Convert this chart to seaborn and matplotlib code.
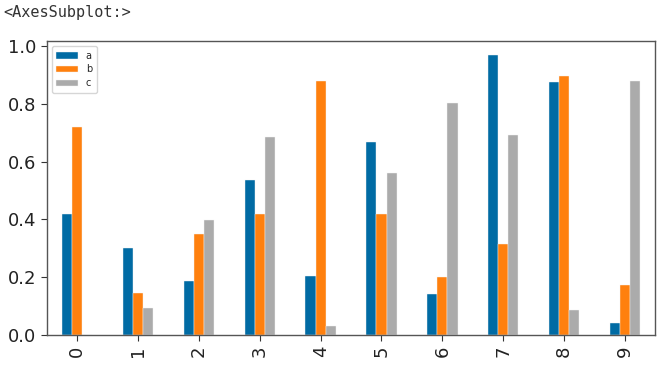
import numpy as np
import matplotlib
matplotlib.use('Agg')
import matplotlib.pyplot as plt
import pandas as pd
import seaborn as sns

# values
idx = ['0', '1', '2', '3', '4', '5', '6', '7', '8', '9']
a = [0.419, 0.302, 0.187, 0.537, 0.205, 0.669, 0.142, 0.969, 0.875, 0.042]
b = [0.721, 0.145, 0.348, 0.419, 0.880, 0.419, 0.200, 0.315, 0.895, 0.173]
c = [0.000, 0.093, 0.398, 0.684, 0.031, 0.560, 0.802, 0.692, 0.087, 0.880]
colors = ['#006BA4', '#FF800E', '#ABABAB']

df = pd.DataFrame({'idx': idx, 'a': a, 'b': b, 'c': c})
long = df.melt(id_vars='idx', var_name='col', value_name='val')

sns.set_style('white')
plt.rcParams['font.family'] = ['DejaVu Sans']

fig = plt.figure(figsize=(6.68, 3.65), dpi=100)
ax = fig.add_axes([0.070, 0.082, 0.911, 0.806])

sns.barplot(data=long, x='idx', y='val', hue='col', palette=colors, saturation=1,
            width=0.5, gap=0, edgecolor='#f4f4f4', linewidth=0.3, ax=ax)

ax.set_xlim(-0.5, 9.5)
ax.set_ylim(0, 1.017)
ax.set_yticks([0.0, 0.2, 0.4, 0.6, 0.8, 1.0])
ax.set_yticklabels(['0.0', '0.2', '0.4', '0.6', '0.8', '1.0'], fontsize=13, color='#222222')
ax.set_xticks(range(10))
ax.set_xticklabels(idx, rotation=90, fontsize=13, color='#222222')
ax.set_xlabel('')
ax.set_ylabel('')
ax.tick_params(axis='both', direction='out', length=4, width=0.8, color='#333333',
               left=True, bottom=True)
for s in ax.spines.values():
    s.set_color('#555555')
    s.set_linewidth(1)

ax.legend(loc='upper left', fontsize=7, frameon=True, handlelength=2.2,
          borderpad=0.5, labelspacing=0.4, title=None)

fig.text(0.005, 0.965, '<AxesSubplot:>', family='DejaVu Sans Mono', fontsize=11,
         color='#333333', va='center', ha='left')

fig.savefig('out.png', dpi=100)
